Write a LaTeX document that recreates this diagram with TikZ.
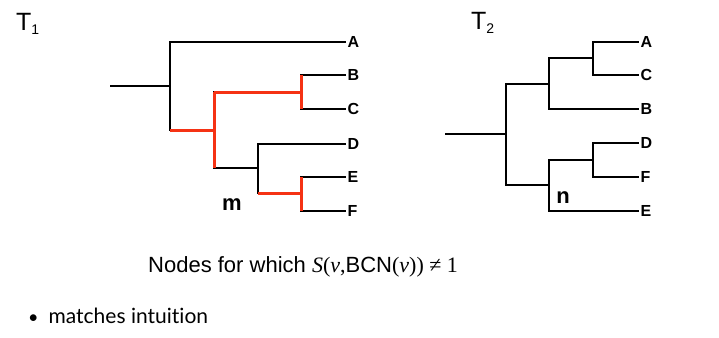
\documentclass[tikz,border=0pt]{standalone}
\usepackage{fontspec}
\setmainfont{Liberation Sans}
\newfontfamily\timesfont{Liberation Serif}
\newfontfamily\gillfont[Ligatures={NoCommon}]{Lato}
\usetikzlibrary{positioning,calc}
\definecolor{hlred}{RGB}{245,50,20}

\begin{document}
\begin{tikzpicture}[
  x=1pt, y=-1pt,
  edge/.style={line width=1.8pt, black},
  hl/.style={line width=3pt, hlred},
  leaf/.style={anchor=west, inner sep=1.5pt, font=\fontsize{16}{16}\selectfont\bfseries},
  inner/.style={font=\fontsize{22}{22}\selectfont\bfseries, inner sep=0pt},
  title/.style={anchor=base west, inner sep=0pt, font=\fontsize{25}{25}\selectfont},
]
\useasboundingbox (0,0) rectangle (719,337);

% T1
\node[title] (t1) at (16,31) {T\raisebox{-4pt}{\fontsize{14}{14}\selectfont 1}};
\coordinate (s1)  at (110,86);
\coordinate (r1)  at (170,86);
\coordinate (u1)  at (214,130);
\coordinate (bc)  at (301,92);
\coordinate (def) at (258,168);
\coordinate (ef)  at (301,193);
\node[leaf] (a1) at (346,42)  {A};
\node[leaf] (b1) at (346,75)  {B};
\node[leaf] (c1) at (346,109) {C};
\node[leaf] (d1) at (346,144) {D};
\node[leaf] (e1) at (346,177) {E};
\node[leaf] (f1) at (346,211) {F};
\node[inner] (m) at (232,205) {m};

\draw[edge] (s1) -- (r1);
\draw[edge] (r1) |- (a1.west);
\draw[edge] (r1) |- (u1);
\draw[edge] (u1) |- (bc);
\draw[edge] (u1) |- (def);
\draw[edge] (bc) |- (b1.west);
\draw[edge] (bc) |- (c1.west);
\draw[edge] (def) |- (d1.west);
\draw[edge] (def) |- (ef);
\draw[edge] (ef) |- (e1.west);
\draw[edge] (ef) |- (f1.west);

% highlighted nodes
\draw[hl] (r1 |- u1) -- (u1);
\draw[hl] (u1 |- bc) -- (u1 |- def);
\draw[hl] (u1 |- bc) -- (bc);
\draw[hl] (bc |- b1) -- (bc |- c1);
\draw[hl] (def |- ef) -- (ef);
\draw[hl] (ef |- e1) -- (ef |- f1);

% T2
\node[title] (t2) at (471,30) {T\raisebox{-4pt}{\fontsize{14}{14}\selectfont 2}};
\coordinate (s2)  at (445,134);
\coordinate (r2)  at (506,134);
\coordinate (acb) at (549,84);
\coordinate (ac)  at (593,58);
\coordinate (dfe) at (549,185);
\coordinate (df)  at (593,160);
\node[leaf] (a2) at (639,42)  {A};
\node[leaf] (c2) at (639,75)  {C};
\node[leaf] (b2) at (639,109) {B};
\node[leaf] (d2) at (639,143) {D};
\node[leaf] (f2) at (639,177) {F};
\node[leaf] (e2) at (639,211) {E};
\node[inner] (n) at (563,198) {n};

\draw[edge] (s2) -- (r2);
\draw[edge] (r2) |- (acb);
\draw[edge] (r2) |- (dfe);
\draw[edge] (acb) |- (ac);
\draw[edge] (acb) |- (b2.west);
\draw[edge] (ac) |- (a2.west);
\draw[edge] (ac) |- (c2.west);
\draw[edge] (dfe) |- (df);
\draw[edge] (dfe) |- (e2.west);
\draw[edge] (df) |- (d2.west);
\draw[edge] (df) |- (f2.west);

% caption
\node[anchor=base west, inner sep=0pt, font=\fontsize{22}{22}\selectfont] (cap) at (148,272)
  {Nodes for which {\timesfont\itshape S\/\upshape(\itshape v\/\upshape,}BCN{\timesfont(\itshape v\/\upshape)) ≠ 1}};
\node[anchor=base west, inner sep=0pt, font=\gillfont\fontsize{21}{21}\selectfont] (pt) at (28,323)
  {{\fontsize{18}{18}\selectfont•}\hspace{10pt}matches intuition};

\end{tikzpicture}
\end{document}
